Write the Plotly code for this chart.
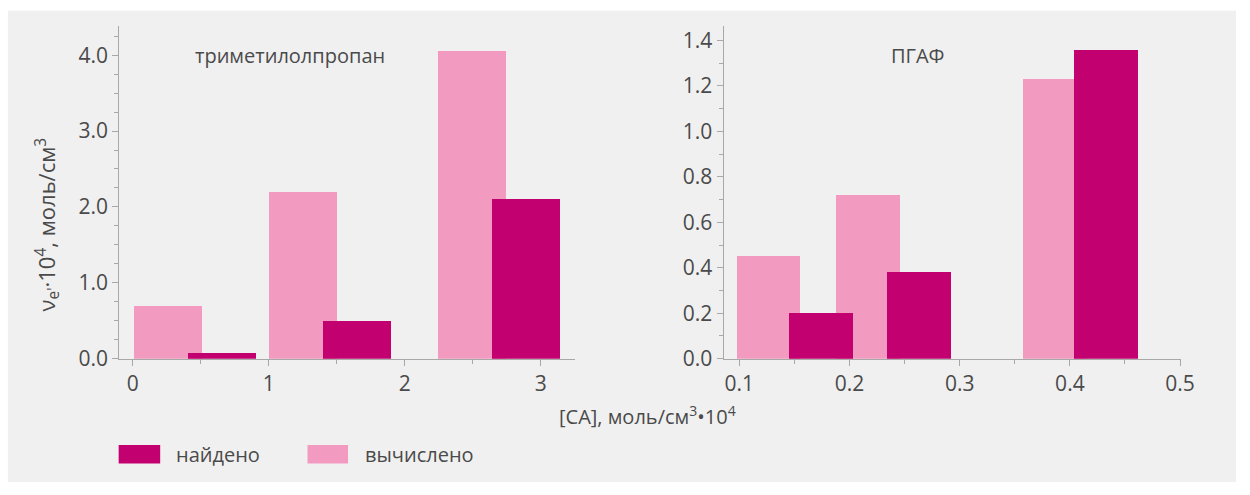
import plotly.graph_objects as go

# ---- data ----
left_calc_x = [0.26, 1.255, 2.497]
left_calc_y = [0.70, 2.20, 4.05]
left_found_x = [0.657, 1.65, 2.896]
left_found_y = [0.08, 0.50, 2.10]
left_width = 0.5

right_calc_x = [0.126, 0.216, 0.386]
right_calc_y = [0.45, 0.72, 1.23]
right_found_x = [0.1735, 0.2624, 0.4327]
right_found_y = [0.20, 0.38, 1.36]
right_width = 0.058

series_names = ["найдено", "вычислено"]
panel_titles = ["триметилолпропан", "ПГАФ"]

C_FOUND = "#c3006f"
C_CALC = "#f39ac0"
W, H = 1250, 495
FONT = "Open Sans"
TXT = "#4a4a4a"
AX = "#a8a8a8"


def px(x):
    return x / W


def py(y):
    return 1 - y / H


fig = go.Figure()
fig.add_trace(go.Bar(x=left_calc_x, y=left_calc_y, width=left_width, marker_color=C_CALC,
                     name=series_names[1], showlegend=False, xaxis="x", yaxis="y"))
fig.add_trace(go.Bar(x=left_found_x, y=left_found_y, width=left_width, marker_color=C_FOUND,
                     name=series_names[0], showlegend=False, xaxis="x", yaxis="y"))
fig.add_trace(go.Bar(x=right_calc_x, y=right_calc_y, width=right_width, marker_color=C_CALC,
                     name=series_names[1], showlegend=False, xaxis="x2", yaxis="y2"))
fig.add_trace(go.Bar(x=right_found_x, y=right_found_y, width=right_width, marker_color=C_FOUND,
                     name=series_names[0], showlegend=False, xaxis="x2", yaxis="y2"))
fig.update_traces(marker_line_width=0)

axis_common = dict(showline=True, linecolor=AX, linewidth=1, ticks="outside", tickcolor=AX,
                   ticklen=6, tickwidth=1, showgrid=False, zeroline=False,
                   tickfont=dict(family=FONT, size=21, color=TXT), fixedrange=True)

fig.update_layout(
    width=W, height=H,
    margin=dict(l=0, r=0, t=0, b=0),
    paper_bgcolor="white", plot_bgcolor="rgba(0,0,0,0)",
    barmode="overlay", bargap=0,
    xaxis=dict(domain=[px(120.5), px(581.7)], range=[-0.1004, 3.254], anchor="y",
               tickmode="linear", tick0=0, dtick=1,
               minor=dict(ticks="outside", ticklen=4, tickcolor=AX, dtick=0.5, tick0=0),
               **axis_common),
    yaxis=dict(domain=[py(368.3), py(26.7)], range=[0, 4.385], anchor="x",
               tickmode="linear", tick0=0, dtick=1, tickformat=".1f",
               minor=dict(ticks="outside", ticklen=4, tickcolor=AX, dtick=0.25, tick0=0),
               **axis_common),
    xaxis2=dict(domain=[px(731.7), px(1194)], range=[0.08565, 0.5005], anchor="y2",
                tickmode="linear", tick0=0.1, dtick=0.1, tickformat=".1f",
                minor=dict(ticks="outside", ticklen=4, tickcolor=AX, dtick=0.05, tick0=0.1),
                **axis_common),
    yaxis2=dict(domain=[py(368.3), py(26.7)], range=[0, 1.464], anchor="x2",
                tickmode="linear", tick0=0, dtick=0.2, tickformat=".1f",
                minor=dict(ticks="outside", ticklen=4, tickcolor=AX, dtick=0.1, tick0=0),
                **axis_common),
)

# background panel
fig.add_shape(type="rect", xref="paper", yref="paper", x0=px(8), x1=1, y0=0, y1=py(11),
              fillcolor="#f0f0f0", line_width=0, layer="below")

ann_font = dict(family=FONT, size=20, color=TXT)
fig.add_annotation(text=panel_titles[0], xref="paper", yref="paper", x=px(293), y=py(57),
                   showarrow=False, font=ann_font, xanchor="center", yanchor="middle")
fig.add_annotation(text=panel_titles[1], xref="paper", yref="paper", x=px(928), y=py(57),
                   showarrow=False, font=ann_font, xanchor="center", yanchor="middle")
fig.add_annotation(text="ν<sub>e'</sub>·10<sup>4</sup>, моль/см<sup>3</sup>", xref="paper", yref="paper",
                   x=px(48), y=py(230), textangle=-90, showarrow=False,
                   font=dict(family=FONT, size=22, color=TXT),
                   xanchor="center", yanchor="middle")
fig.add_annotation(text="[CA], моль/см<sup>3</sup>•10<sup>4</sup>", xref="paper", yref="paper",
                   x=px(655), y=py(427), showarrow=False, font=ann_font,
                   xanchor="center", yanchor="middle")

# legend
fig.add_shape(type="rect", xref="paper", yref="paper", x0=px(120), x1=px(162), y0=py(476), y1=py(457),
              fillcolor=C_FOUND, line_width=0)
fig.add_shape(type="rect", xref="paper", yref="paper", x0=px(311), x1=px(352), y0=py(476), y1=py(457),
              fillcolor=C_CALC, line_width=0)
fig.add_annotation(text=series_names[0], xref="paper", yref="paper", x=px(176), y=py(467),
                   showarrow=False, font=ann_font, xanchor="left", yanchor="middle")
fig.add_annotation(text=series_names[1], xref="paper", yref="paper", x=px(367), y=py(467),
                   showarrow=False, font=ann_font, xanchor="left", yanchor="middle")

fig.write_html("out.html")
